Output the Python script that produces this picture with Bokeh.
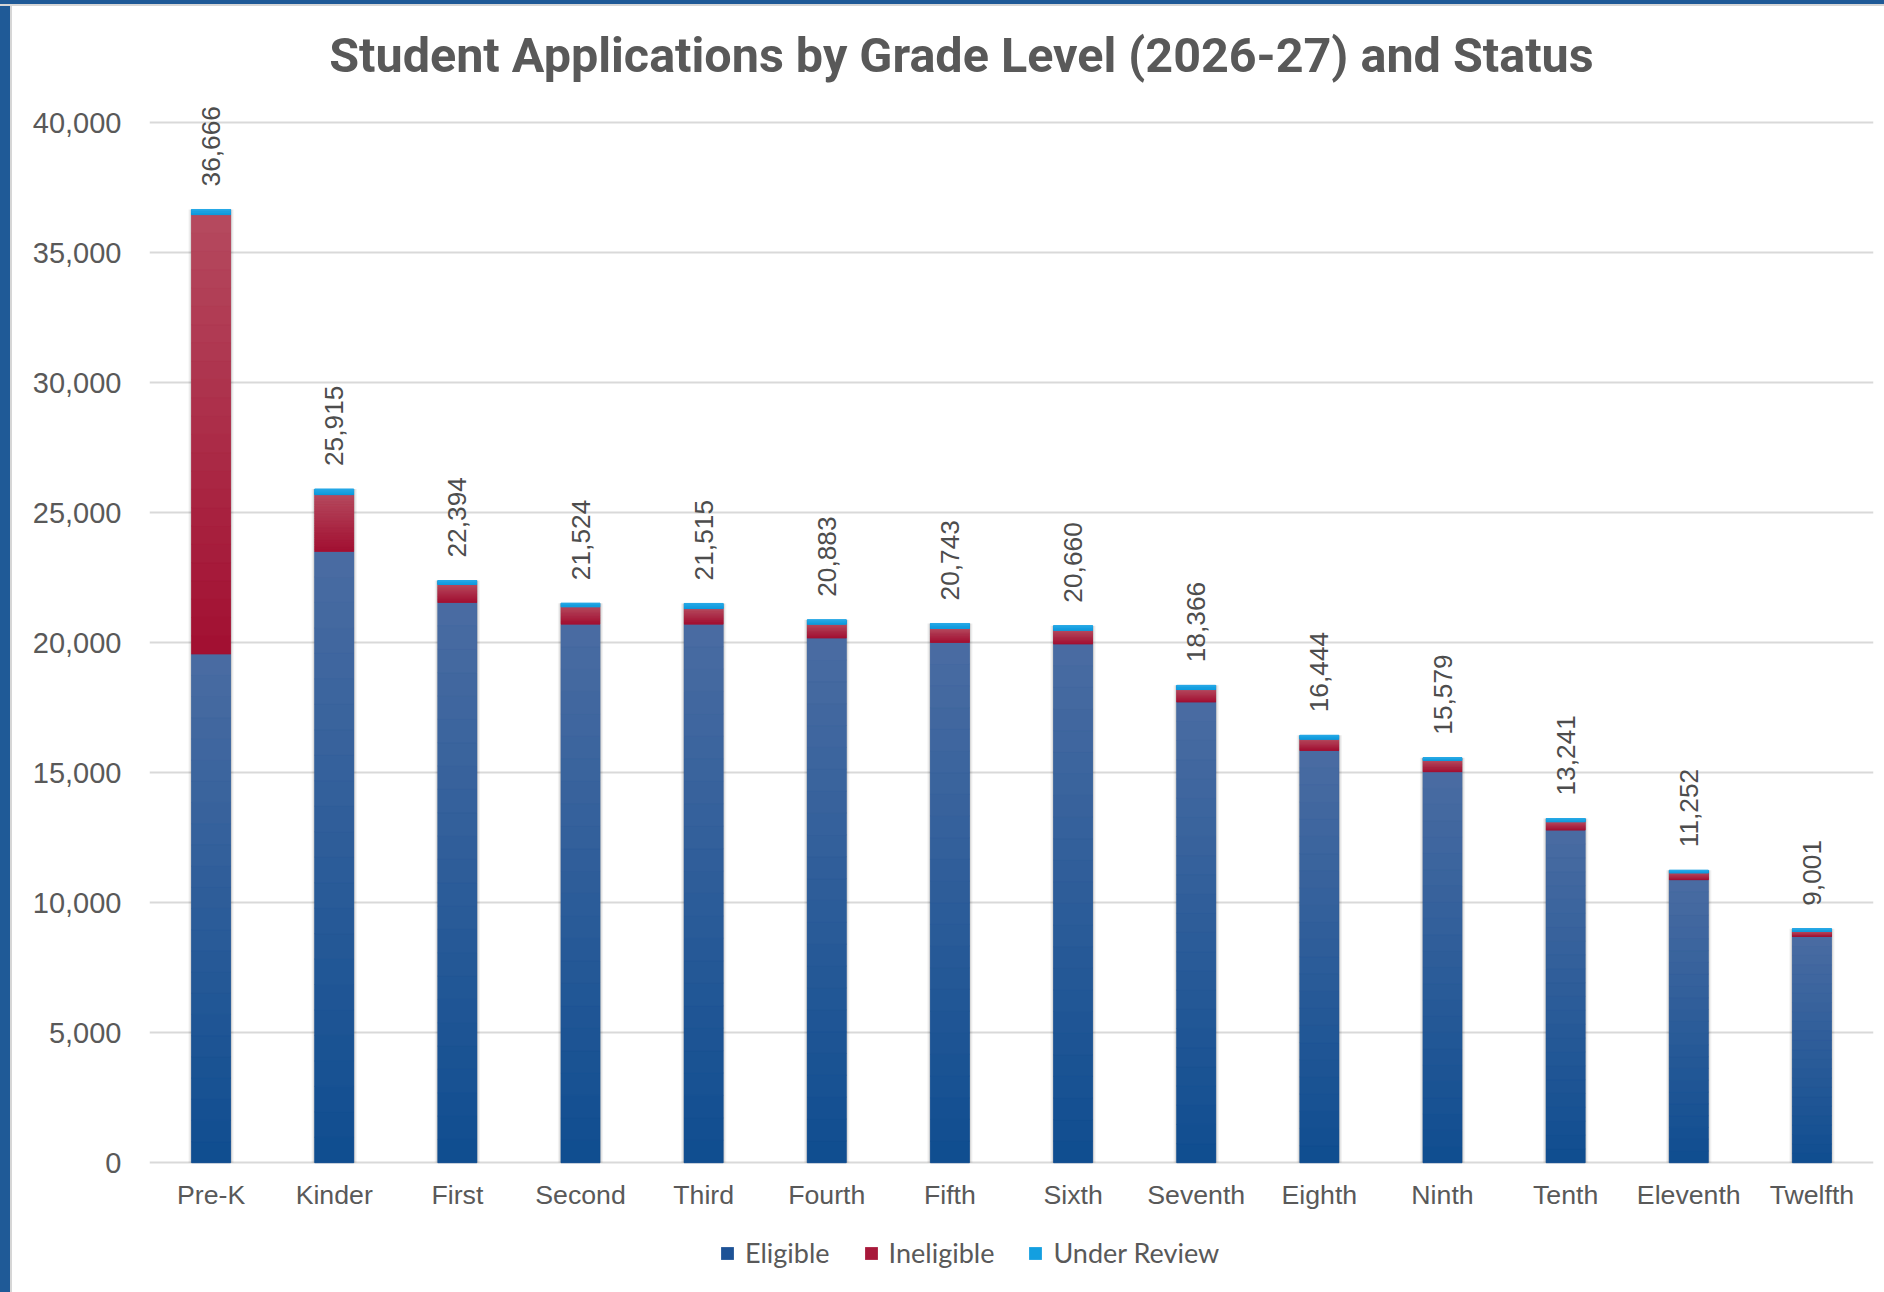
import math
import numpy as np
from bokeh.plotting import figure
from bokeh.layouts import column, row
from bokeh.models import (ColumnDataSource, FactorRange, Range1d, NumeralTickFormatter,
                          FixedTicker, Legend, LegendItem, Div)
from bokeh.core.properties import value
from bokeh.embed import file_html
from bokeh.resources import INLINE

# ---------------- data ----------------
grades = ["Pre-K", "Kinder", "First", "Second", "Third", "Fourth", "Fifth",
          "Sixth", "Seventh", "Eighth", "Ninth", "Tenth", "Eleventh", "Twelfth"]
eligible = [19565, 23512, 21550, 20718, 20718, 20180, 20012,
            19950, 17719, 15858, 15038, 12796, 10885, 8704]
ineligible = [16901, 2183, 694, 666, 597, 538, 541,
              530, 482, 436, 436, 320, 267, 197]
under_review = [200, 220, 150, 140, 200, 165, 190,
                180, 165, 150, 105, 125, 100, 100]
y_ticks = [0, 5000, 10000, 15000, 20000, 25000, 30000, 35000, 40000]
series_names = ["Eligible", "Ineligible", "Under Review"]
title_text = "Student Applications  by Grade Level (2026-27) and Status"

# ---------------- layout / styling ----------------
TXT = "#595959"
GRID = "#d9d9d9"
FRAME_BLUE = "#1f5a97"
BAR_W = 0.317
FONT = "Liberation Sans"
W, H = 1872, 1286
FRAME_LEFT = 137
FRAME_RIGHT_PAD = 11
PX_PER_UNIT = 0.026          # 26 px per 1000 applications
ZERO_Y = 1156.3              # pixel row of the 0 line inside the figure
Y_MAX_PIX = 116.3            # pixel row of the 40,000 line
y_top = 40000 + Y_MAX_PIX / PX_PER_UNIT
y_bottom = -(H - ZERO_Y) / PX_PER_UNIT

e = np.array(eligible, dtype=float)
i = np.array(ineligible, dtype=float)
u = np.array(under_review, dtype=float)
totals = e + i + u

p = figure(width=W, height=H, x_range=FactorRange(factors=grades, range_padding=0),
           y_range=Range1d(y_bottom, y_top), output_backend="svg", toolbar_location=None,
           min_border_left=FRAME_LEFT, min_border_right=FRAME_RIGHT_PAD,
           min_border_top=0, min_border_bottom=0,
           background_fill_color="white", border_fill_color="white")
p.outline_line_color = None

# grid / axes
p.xgrid.grid_line_color = None
p.ygrid.grid_line_color = GRID
p.ygrid.grid_line_width = 2
p.yaxis.ticker = FixedTicker(ticks=y_ticks)
p.yaxis.formatter = NumeralTickFormatter(format="0,0")
p.yaxis.axis_line_color = None
p.yaxis.major_tick_line_color = None
p.yaxis.minor_tick_line_color = None
p.yaxis.major_tick_out = 0
p.yaxis.major_tick_in = 0
p.yaxis.minor_tick_out = 0
p.yaxis.major_label_standoff = 28
p.yaxis.major_label_text_font = FONT
p.yaxis.major_label_text_font_size = "29px"
p.yaxis.major_label_text_color = TXT
p.xaxis.visible = False

# soft shadow behind bars
shadow_src = ColumnDataSource(dict(x=grades, top=totals, bottom=np.zeros_like(totals)))
for extra, alpha in [(0.05, 0.05), (0.03, 0.07), (0.015, 0.09)]:
    p.vbar(x="x", top="top", bottom="bottom", width=BAR_W + extra, source=shadow_src,
           fill_color="black", fill_alpha=alpha, line_color=None)

def hex2rgb(h):
    h = h.lstrip("#")
    return np.array([int(h[k:k + 2], 16) for k in (0, 2, 4)], dtype=float)

def rgb2hex(c):
    return "#%02x%02x%02x" % tuple(int(round(v)) for v in c)

segments = [
    ("Eligible", np.zeros_like(e), e, "#0f4d90", "#4a6ca2", "#1d5296"),
    ("Ineligible", e, e + i, "#a20f31", "#b54a5f", "#a8183a"),
    ("Under Review", e + i, totals, "#0e9bdd", "#27a8e6", "#139fe0"),
]

legend_items = []
N = 24
for name, b, t, dark, light, solid in segments:
    src = ColumnDataSource(dict(x=grades, bottom=b, top=t))
    base = p.vbar(x="x", bottom="bottom", top="top", width=BAR_W, source=src,
                  fill_color=solid, line_color=None)
    legend_items.append(LegendItem(label=name, renderers=[base]))
    d, l = hex2rgb(dark), hex2rgb(light)
    for k in range(N):
        f0, f1 = k / N, (k + 1) / N
        col = rgb2hex(d + (l - d) * ((k + 0.5) / N))
        s = ColumnDataSource(dict(x=grades, bottom=b + (t - b) * f0, top=b + (t - b) * f1))
        p.vbar(x="x", bottom="bottom", top="top", width=BAR_W, source=s,
               fill_color=col, line_color=col, line_width=0.6)

# total labels
lab_src = ColumnDataSource(dict(x=grades, y=totals, text=[f"{int(v):,}" for v in totals]))
p.text(x="x", y="y", text="text", source=lab_src, angle=math.pi / 2,
       text_align="left", text_baseline="middle", y_offset=-23,
       text_font=value(FONT), text_font_size="26.3px", text_color="#4d4d4d")

# category labels under the 0 line
cat_src = ColumnDataSource(dict(x=grades, y=[0] * len(grades), text=grades))
p.text(x="x", y="y", text="text", source=cat_src, text_align="center", text_baseline="middle",
       y_offset=32, text_font=value(FONT), text_font_size="26.7px", text_color=TXT)

# title
title_src = ColumnDataSource(dict(x=["Sixth"], y=[40000 + (Y_MAX_PIX - 48.5) / PX_PER_UNIT],
                                  text=[title_text]))
p.text(x="x", y="y", text="text", source=title_src, text_align="center", text_baseline="middle",
       x_offset=-105.6, text_font=value("Roboto"), text_font_style="bold",
       text_font_size="48.5px", text_color=TXT)

# legend
legend = Legend(items=legend_items, orientation="horizontal", location=(570, 23),
                glyph_width=16, glyph_height=16, label_standoff=10, spacing=33,
                label_text_font="Lato", label_text_font_size="27px", label_text_color=TXT,
                border_line_color=None, background_fill_alpha=0, padding=0, margin=0)
p.add_layout(legend)

# window frame of the original screenshot (blue edge on the top and left)
top_edge = Div(text="", width=1884, height=6, margin=0,
               styles={"background": f"linear-gradient(to bottom, {FRAME_BLUE} 0px, {FRAME_BLUE} 4px, #d6d6d6 4px, #d6d6d6 6px)"})
left_edge = Div(text="", width=12, height=H, margin=0,
                styles={"background": f"linear-gradient(to right, {FRAME_BLUE} 0px, {FRAME_BLUE} 10px, #d6d6d6 10px, #d6d6d6 12px)"})
page = column(top_edge, row(left_edge, p, spacing=0, margin=0), spacing=0, margin=0)

open("out.html", "w").write(file_html(page, INLINE))
